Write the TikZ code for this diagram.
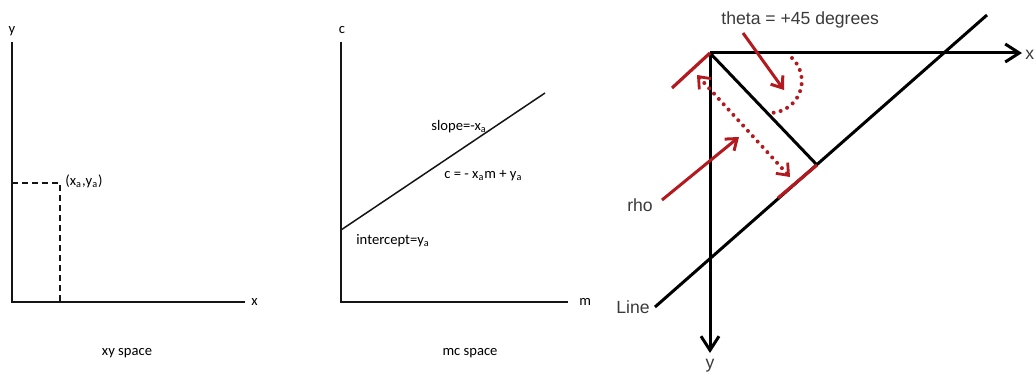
\documentclass[tikz,border=0pt]{standalone}
\usepackage{fontspec}
\setmainfont{Liberation Sans}
\newfontfamily\panelfont{Carlito}
\usetikzlibrary{arrows.meta}
\definecolor{PlotInk}{HTML}{151515}
\definecolor{PlotText}{HTML}{3A3A3A}
\definecolor{HoughRed}{HTML}{B3191E}
\tikzset{
  houghtip/.tip={Straight Barb[length=5pt,width=8pt,line width=1.4pt]},
  plot/axis/.style={draw=PlotInk, line width=.75pt},
  plot/guide/.style={draw=PlotInk, line width=.55pt, dash pattern=on 3pt off 2pt},
  plot/label/.style={font=\panelfont\fontsize{7.3}{8}\selectfont, inner sep=1pt},
  hough/axis/.style={
    draw=black, line width=1.5pt,
    -{Straight Barb[length=7pt,width=9pt,line width=1.5pt]}
  },
  hough/line/.style={draw=black, line width=1.5pt},
  hough/mark/.style={draw=HoughRed, line width=1.6pt},
  hough/pointer/.style={
    draw=HoughRed, line width=1.5pt,
    -{Straight Barb[length=5pt,width=7.5pt,line width=1.5pt]}
  },
  hough/dots/.style={
    draw=HoughRed, line width=2pt, line cap=round,
    dash pattern=on 0pt off 3.6pt
  },
  hough/label/.style={font=\fontsize{8.8}{10}\selectfont, text=PlotText, inner sep=1pt}
}

\begin{document}
\begin{tikzpicture}[x=.5pt,y=.5pt]
  \useasboundingbox (0,0) rectangle (1035,-374);
  % xy space
  \coordinate (xyO) at (12,-302);
  \coordinate (xyTop) at (12,-42);
  \coordinate (xyEnd) at (245,-302);
  \coordinate (pa) at (60,-183);
  \draw[plot/axis] (xyTop) -- (xyO) -- (xyEnd);
  \draw[plot/guide] (xyO |- pa) -- (pa) -- (pa |- xyO);
  \node[plot/label] (xyY) at (12,-31) {y};
  \node[plot/label,anchor=west] (xyX) at (249,-302) {x};
  \node[plot/label,anchor=west] (paLab) at (63,-181) {(x\textsubscript{a},y\textsubscript{a})};
  \node[plot/label] (xyCap) at (127,-353) {xy space};
  % mc space
  \coordinate (mcO) at (341,-302);
  \coordinate (mcTop) at (341,-42);
  \coordinate (mcEnd) at (568,-302);
  \coordinate (icpt) at (341,-230);
  \coordinate (mcLine) at (545,-93);
  \draw[plot/axis] (mcTop) -- (mcO) -- (mcEnd);
  \draw[plot/axis] (icpt) -- (mcLine);
  \node[plot/label] (mcC) at (342,-30) {c};
  \node[plot/label,anchor=west] (mcM) at (577,-302) {m};
  \node[plot/label,anchor=west] (slope) at (429,-127) {slope=-x\textsubscript{a}};
  \node[plot/label,anchor=west] (eqn) at (442,-176) {c = - x\textsubscript{a}m + y\textsubscript{a}};
  \node[plot/label,anchor=west] (icptLab) at (354,-241) {intercept=y\textsubscript{a}};
  \node[plot/label] (mcCap) at (470,-353) {mc space};
  % image space with the normal form of the line
  \coordinate (O) at (710,-53);
  \coordinate (xtip) at (1022,-53);
  \coordinate (ytip) at (710,-353);
  \coordinate (foot) at (817,-165);
  \coordinate (lineA) at (655,-307);
  \coordinate (lineB) at (987,-15);
  \draw[hough/axis] (O) -- (xtip);
  \draw[hough/axis] (O) -- (ytip);
  \draw[hough/line] (lineA) -- (lineB);
  \draw[hough/line] (O) -- (foot);
  \coordinate (tickO) at (672,-88);
  \coordinate (tickF) at (778,-198);
  \draw[hough/mark] (tickO) -- (O);
  \draw[hough/mark] (tickF) -- (foot);
  \coordinate (rhoA) at (697,-75);
  \coordinate (rhoB) at (790,-177);
  \draw[hough/dots,houghtip-houghtip] (rhoA) -- (rhoB);
  \coordinate (arcA) at (792,-58);
  \draw[hough/dots] (arcA) arc[start angle=46,end angle=-84,radius=32];
  \node[hough/label,anchor=west] (theta) at (719,-20) {theta = +45 degrees};
  \node[hough/label] (rho) at (640,-205) {rho};
  \node[hough/label,anchor=east] (lineLab) at (652,-307) {Line};
  \node[hough/label] (yLab) at (710,-366) {y};
  \node[hough/label,anchor=west,inner sep=0pt] (xLab) at (1025,-55) {x};
  \coordinate (thetaTail) at (743,-33);
  \coordinate (thetaTip) at (784,-90);
  \coordinate (rhoTail) at (662,-200);
  \coordinate (rhoTip) at (739,-137);
  \draw[hough/pointer] (thetaTail) -- (thetaTip);
  \draw[hough/pointer] (rhoTail) -- (rhoTip);
\end{tikzpicture}
\end{document}
